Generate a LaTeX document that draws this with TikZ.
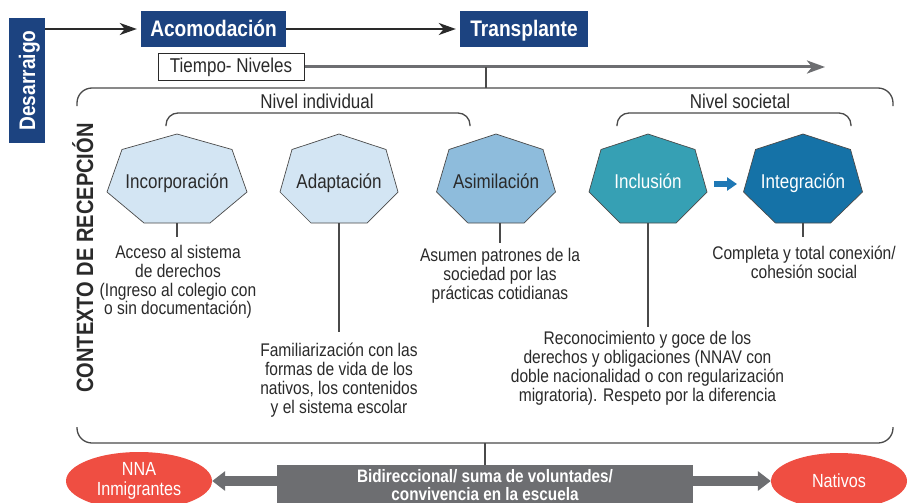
\documentclass[tikz,border=0pt]{standalone}
\usepackage{fontspec}
\setmainfont{Liberation Sans}[FakeStretch=0.85]
\usetikzlibrary{arrows.meta,shapes.geometric}
\definecolor{navy}{HTML}{1C4380}
\definecolor{lightblue}{HTML}{D3E5F3}
\definecolor{midblue}{HTML}{8EBCDC}
\definecolor{tealc}{HTML}{36A0B4}
\definecolor{deepblue}{HTML}{1572A7}
\definecolor{arrowblue}{HTML}{1E78B5}
\definecolor{boxgray}{HTML}{6D6E71}
\definecolor{redc}{HTML}{EF4E42}
\definecolor{txtgray}{HTML}{2A2A2A}
\definecolor{lngray}{HTML}{4A4A4A}
\newcommand{\hepta}[8]{%
  \filldraw[fill=#6, draw=lngray, line width=0.7pt]
    (#2,134) -- (#2+#3,149.5) -- (#2+#4,192) -- (#2+#5,223) --
    (#2-#5,223) -- (#2-#4,192) -- (#2-#3,149.5) -- cycle;
  \node[heplabel, text=#7] (#1) at (#2,188) {#8};
  \coordinate (#1-b) at (#2,223);
}
\begin{document}
\begin{tikzpicture}[x=1pt,y=-1pt,
  navybox/.style={fill=navy, text=white, font=\fontsize{22.5}{26}\selectfont\bfseries,
    inner sep=0, minimum height=36, text height=16pt, text depth=0pt},
  blackarrow/.style={draw=txtgray, line width=2pt, -{Stealth[length=17pt,width=12pt,inset=5pt]}},
  grayarrow/.style={draw=boxgray, line width=3pt, -{Stealth[length=18pt,width=13pt,inset=5pt]}},
  brk/.style={draw=lngray, line width=1.3pt},
  conn/.style={draw=lngray, line width=1.2pt},
  heplabel/.style={anchor=base, inner sep=0, font=\fontsize{20}{24}\selectfont},
  desc/.style={anchor=north, inner sep=0, align=center, text=txtgray,
    font=\fontsize{18.3}{18.8}\selectfont},
  lvl/.style={inner sep=0, text=txtgray, font=\fontsize{20}{24}\selectfont},
  blockarrow/.style={draw=boxgray, line width=10pt, -{Triangle[length=13pt,width=19pt]}},
  redell/.style={ellipse, fill=redc, text=white, inner sep=0, align=center,
    font=\fontsize{19}{20}\selectfont}
]
\clip (0,0) rectangle (910,503);
\fill[white] (0,0) rectangle (910,503);

% top row
\node[navybox, rotate=90, minimum width=125] (desa) at (27,80.5) {Desarraigo};
\node[navybox, minimum width=145] (acom) at (213.5,29) {Acomodación};
\node[navybox, minimum width=128] (trans) at (524,29) {Transplante};
\draw[blackarrow, shorten >=4pt] (desa.south |- acom.west) -- (acom.west);
\draw[blackarrow, shorten >=4pt] (acom.east) -- (trans.west);

% time arrow
\node[draw=txtgray, line width=1pt, minimum width=146, minimum height=27, inner sep=0,
  text=txtgray, font=\fontsize{20}{24}\selectfont] (tiempo) at (231,67) {Tiempo- Niveles};
\coordinate (tend) at (825,67);
\coordinate (tj) at (486,67);
\coordinate (btop) at (486,88);
\draw[grayarrow] (tiempo.east) -- (tend);
\draw[conn] (tj) -- (btop);

% big top bracket
\draw[brk, rounded corners=15] (77,106) |- (btop) -| (893,106);

% level labels and small brackets
\node[lvl] (nind) at (317,101) {Nivel individual};
\node[lvl] (nsoc) at (740,101) {Nivel societal};
\draw[brk, rounded corners=12] (166,126) |- (470,113) -- (470,126);
\draw[brk, rounded corners=12] (617,126) |- (851,113) -- (851,126);

% context label
\node[rotate=90, anchor=base, inner sep=0, text=txtgray,
  font=\fontsize{23.6}{26}\selectfont\bfseries] (ctx) at (93,258) {CONTEXTO DE RECEPCIÓN};

% heptagons
\hepta{incor}{177}{55}{70}{33}{lightblue}{txtgray}{Incorporación}
\hepta{adap}{339}{47}{59}{28}{lightblue}{txtgray}{Adaptación}
\hepta{asim}{496}{47}{59.5}{28}{midblue}{txtgray}{Asimilación}
\hepta{incl}{648}{47}{59}{28}{tealc}{white}{Inclusión}
\hepta{integ}{803}{47.5}{59.5}{27.5}{deepblue}{white}{Integración}

% small blue arrow
\coordinate (ba1) at (714,184);
\coordinate (ba2) at (737,184);
\draw[draw=arrowblue, line width=6pt, -{Triangle[length=10pt,width=13pt]}] (ba1) -- (ba2);

% descriptions
\node[desc] (d1) at (178,245) {Acceso al sistema\\de derechos\\(Ingreso al colegio con\\o sin documentación)};
\node[desc] (d2) at (339,343) {Familiarización con las\\formas de vida de los\\nativos, los contenidos\\y el sistema escolar};
\node[desc] (d3) at (500,248.5) {Asumen patrones de la\\sociedad por las\\prácticas cotidianas};
\node[desc] (d4) at (647.5,331.5) {Reconocimiento y goce de los\\derechos y obligaciones (NNAV con\\doble nacionalidad o con regularización\\migratoria). Respeto por la diferencia};
\node[desc] (d5) at (804,246) {Completa y total conexión/\\cohesión social};

\coordinate (e1) at (177,237);
\coordinate (e2) at (339,332);
\coordinate (e3a) at (500,223);
\coordinate (e3) at (500,243);
\coordinate (e4) at (648,327);
\coordinate (e5) at (803,237);
\draw[conn] (incor-b) -- (e1);
\draw[conn] (adap-b) -- (e2);
\draw[conn] (e3a) -- (e3);
\draw[conn] (incl-b) -- (e4);
\draw[conn] (integ-b) -- (e5);

% bottom bracket
\coordinate (bbot) at (485,443);
\draw[brk, rounded corners=15] (77,427) |- (bbot) -| (893,427);

% bottom row
\node[fill=boxgray, text=white, minimum width=416, minimum height=40, inner sep=0,
  align=center, font=\fontsize{18}{18}\selectfont\bfseries] (bidir) at (485,485)
  {Bidireccional/ suma de voluntades/\\convivencia en la escuela};
\draw[conn] (bbot) -- (bidir.north);
\node[redell, minimum width=146, minimum height=58] (nna) at (139,481) {NNA\\Inmigrantes};
\node[redell, minimum width=136, minimum height=56] (nat) at (839,481) {Nativos};
\draw[blockarrow] (bidir.west |- nna.east) -- (nna.east);
\draw[blockarrow] (bidir.east |- nat.west) -- (nat.west);
\end{tikzpicture}
\end{document}
